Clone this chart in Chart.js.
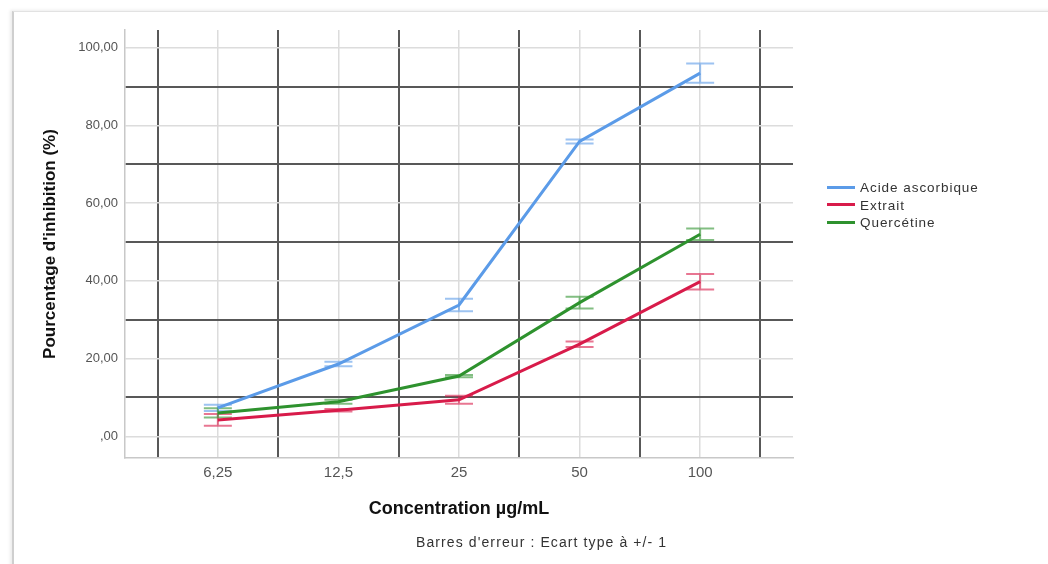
<!DOCTYPE html>
<html>
<head>
<meta charset="utf-8">
<script src="https://cdn.jsdelivr.net/npm/chart.js@4"></script>
<style>
  html, body { margin: 0; padding: 0; background: #fff; }
  #wrap { position: relative; width: 1048px; height: 564px; overflow: hidden; font-family: "Liberation Sans", Arial, sans-serif; }
  #frame { position: absolute; left: 12px; top: 11px; width: 1100px; height: 600px;
    border-left: 2px solid #cfcfcf; border-top: 1px solid #e2e2e2; box-shadow: -2px -1px 3px rgba(0,0,0,0.08); }
  #chart { position: absolute; left: 0; top: 0; }
  #legend { position: absolute; left: 827px; top: 179px; font-size: 13.5px; color: #333; line-height: 17.5px; letter-spacing: 0.95px; }
  #legend div { white-space: nowrap; }
  #legend span { display: inline-block; width: 28px; height: 3px; margin-right: 5px; vertical-align: middle; position: relative; top: -1px; }
  #note { position: absolute; left: 416px; top: 534px; font-size: 14px; color: #333; letter-spacing: 1.1px; }
</style>
</head>
<body>
<div id="wrap">
  <div id="frame"></div>
  <canvas id="chart" width="1048" height="564"></canvas>
  <div id="legend"></div>
  <div id="note">Barres d'erreur : Ecart type à +/- 1</div>
</div>
<script>
(function () {
  'use strict';

  var concentrations = ['6,25', '12,5', '25', '50', '100'];
  var seriesNames = ['Acide ascorbique', 'Extrait', 'Quercétine'];
  var seriesColors = ['#5b9be8', '#d81b4a', '#2e922e'];
  var errorColors = ['rgba(91,155,232,0.6)', 'rgba(216,27,74,0.6)', 'rgba(46,146,46,0.6)'];

  var acideMean = [7.3, 18.6, 33.8, 75.9, 93.5];
  var acideSd = [0.8, 0.6, 1.6, 0.5, 2.5];
  var extraitMean = [4.2, 6.7, 9.4, 23.7, 39.8];
  var extraitSd = [1.5, 0.3, 1.0, 0.7, 2.0];
  var quercetineMean = [6.0, 8.9, 15.5, 34.4, 52.0];
  var quercetineSd = [1.2, 0.5, 0.3, 1.5, 1.5];

  var yTicks = [0, 10, 20, 30, 40, 50, 60, 70, 80, 90, 100];
  var xTicks = [-0.5, 0, 0.5, 1, 1.5, 2, 2.5, 3, 3.5, 4, 4.5];

  var means = [acideMean, extraitMean, quercetineMean];
  var sds = [acideSd, extraitSd, quercetineSd];

  var datasets = seriesNames.map(function (name, k) {
    return {
      label: name,
      data: means[k].map(function (v, i) { return { x: i, y: v }; }),
      sd: sds[k],
      errorColor: errorColors[k],
      borderColor: seriesColors[k],
      backgroundColor: seriesColors[k],
      borderWidth: 3,
      pointRadius: 0,
      tension: 0,
      fill: false
    };
  });

  // barres d'erreur (moyenne +/- 1 écart type)
  var errorBars = {
    id: 'errorBars',
    beforeDatasetsDraw: function (chart) {
      var ctx = chart.ctx;
      var xs = chart.scales.x;
      var ys = chart.scales.y;
      ctx.save();
      chart.data.datasets.forEach(function (ds) {
        ctx.strokeStyle = ds.errorColor;
        ctx.lineWidth = 2;
        ds.data.forEach(function (p, i) {
          var px = xs.getPixelForValue(p.x);
          var top = ys.getPixelForValue(p.y + ds.sd[i]);
          var bot = ys.getPixelForValue(p.y - ds.sd[i]);
          ctx.beginPath();
          ctx.moveTo(px, top); ctx.lineTo(px, bot);
          ctx.moveTo(px - 14, top); ctx.lineTo(px + 14, top);
          ctx.moveTo(px - 14, bot); ctx.lineTo(px + 14, bot);
          ctx.stroke();
        });
      });
      ctx.restore();
    }
  };

  var isMajor = function (c) {
    if (!c.tick) return false;
    return c.scale.axis === 'y' ? c.tick.value % 20 !== 0 : c.tick.value % 1 !== 0;
  };
  var gridColor = function (c) { return isMajor(c) ? '#585858' : '#dcdcdc'; };
  var gridWidth = function (c) { return isMajor(c) ? 2 : 1.5; };

  var ctx = document.getElementById('chart').getContext('2d');
  new Chart(ctx, {
    type: 'line',
    data: { datasets: datasets },
    plugins: [errorBars],
    options: {
      responsive: false,
      animation: false,
      layout: { padding: { left: 12, top: 30, right: 255, bottom: 40 } },
      plugins: { legend: { display: false }, tooltip: { enabled: false } },
      scales: {
        x: {
          type: 'linear',
          min: -0.77,
          max: 4.77,
          afterBuildTicks: function (s) { s.ticks = xTicks.map(function (v) { return { value: v }; }); },
          afterFit: function (s) { s.height = 66; },
          grid: { color: gridColor, lineWidth: gridWidth, tickLength: 0, drawTicks: false },
          border: { color: '#c8c8c8', width: 1.5 },
          ticks: {
            autoSkip: false,
            maxRotation: 0,
            padding: 6,
            color: '#555',
            font: { family: 'Liberation Sans, Arial', size: 15 },
            callback: function (v) { return v % 1 === 0 ? concentrations[v] : ''; }
          },
          title: {
            display: true,
            text: 'Concentration µg/mL',
            color: '#111',
            font: { family: 'Liberation Sans, Arial', size: 18, weight: 'bold' },
            padding: { top: 0, bottom: 4 }
          }
        },
        y: {
          min: -5.6,
          max: 104.6,
          afterBuildTicks: function (s) { s.ticks = yTicks.map(function (v) { return { value: v }; }); },
          afterFit: function (s) { s.width = 113; },
          grid: { color: gridColor, lineWidth: gridWidth, tickLength: 0, drawTicks: false },
          border: { color: '#c8c8c8', width: 1.5 },
          ticks: {
            autoSkip: false,
            padding: 7,
            color: '#555',
            font: { family: 'Liberation Sans, Arial', size: 13 },
            callback: function (v) {
              if (v % 20 !== 0) return '';
              return v === 0 ? ',00' : v + ',00';
            }
          },
          title: {
            display: true,
            text: "Pourcentage d'inhibition (%)",
            color: '#111',
            font: { family: 'Liberation Sans, Arial', size: 17, weight: 'bold' },
            padding: { top: 28, bottom: 0 }
          }
        }
      }
    }
  });

  var legend = document.getElementById('legend');
  seriesNames.forEach(function (name, k) {
    var row = document.createElement('div');
    var sw = document.createElement('span');
    sw.style.background = seriesColors[k];
    row.appendChild(sw);
    row.appendChild(document.createTextNode(name));
    legend.appendChild(row);
  });
}());
</script>
</body>
</html>
